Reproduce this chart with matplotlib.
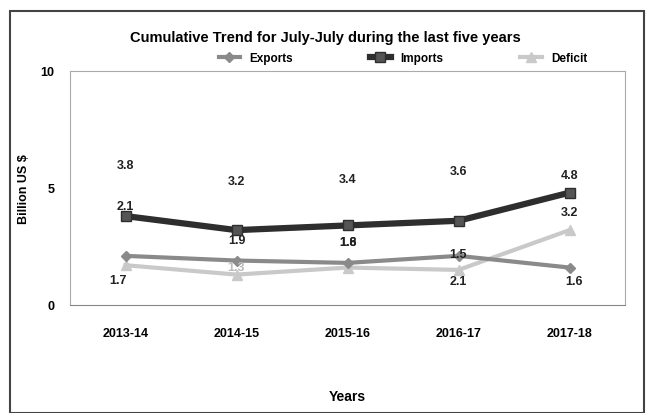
import matplotlib.pyplot as plt
from matplotlib.patches import Rectangle

years = ["2013-14", "2014-15", "2015-16", "2016-17", "2017-18"]
exports = [2.1, 1.9, 1.8, 2.1, 1.6]
imports = [3.8, 3.2, 3.4, 3.6, 4.8]
deficit = [1.7, 1.3, 1.6, 1.5, 3.2]

# label offsets in pixels (dx, dy), as dragged in the original
imp_off = [(0, 51), (0, 49), (0, 46), (0, 50), (0, 18)]
exp_off = [(0, 50), (0, 21), (0, 21), (0, -25), (5, -13)]
def_off = [(-8, -15), (0, 8), (0, 26), (0, 16), (0, 18)]

plt.rcParams['font.family'] = ['Liberation Sans', 'DejaVu Sans']

fig = plt.figure(figsize=(6.47, 4.14), dpi=100)
ax = fig.add_axes([70/647, 1-306/414, 555/647, 234/414])

x = list(range(len(years)))
ax.plot(x, exports, color="#8a8a8a", lw=3, marker="D", ms=5, label="Exports", zorder=3)
ax.plot(x, imports, color="#2e2e2e", lw=4.5, marker="s", ms=7, mfc="#555555", label="Imports", zorder=4)
ax.plot(x, deficit, color="#c9c9c9", lw=3, marker="^", ms=7, label="Deficit", zorder=2)

for i in x:
    ax.annotate(f"{imports[i]:.1f}", (i, imports[i]), xytext=imp_off[i], textcoords="offset pixels",
                ha="center", va="center", fontsize=9, fontweight="bold", color="#222222")
    ax.annotate(f"{exports[i]:.1f}", (i, exports[i]), xytext=exp_off[i], textcoords="offset pixels",
                ha="center", va="center", fontsize=9, fontweight="bold", color="#222222")
    ax.annotate(f"{deficit[i]:.1f}", (i, deficit[i]), xytext=def_off[i], textcoords="offset pixels",
                ha="center", va="center", fontsize=9, fontweight="bold",
                color="#bbbbbb" if i == 1 else "#222222")

ax.set_xlim(-0.5, len(years) - 0.5)
ax.set_ylim(0, 10)
ax.set_yticks([0, 5, 10])
ax.set_xticks(x)
ax.set_xticklabels(years)
ax.tick_params(length=0)
ax.tick_params(axis="x", pad=16)
ax.tick_params(axis="y", pad=11)
for lab in ax.get_xticklabels() + ax.get_yticklabels():
    lab.set_fontweight("bold")
    lab.set_fontsize(9)
for s in ax.spines.values():
    s.set_color("#aaaaaa")
ax.spines["bottom"].set_color("#888888")

ax.set_ylabel("Billion US $", fontsize=9, fontweight="bold", labelpad=8)
ax.set_xlabel("Years", fontsize=10, fontweight="bold", labelpad=36)
fig.text(325/647, 1-38/414, "Cumulative Trend for July-July during the last five years",
         ha="center", va="center", fontsize=10.5, fontweight="bold")

leg = ax.legend(loc="lower center", bbox_to_anchor=(0.6, 1.0), ncol=3, frameon=False,
                fontsize=8.5, columnspacing=6.5, handlelength=1.8, borderaxespad=0.2)
for t in leg.get_texts():
    t.set_fontweight("bold")

fig.patches.append(Rectangle((10/647, 0), 634/647, 402/414, transform=fig.transFigure,
                             fill=False, edgecolor="#444444", lw=1.5))

fig.savefig("out.png", dpi=100)
